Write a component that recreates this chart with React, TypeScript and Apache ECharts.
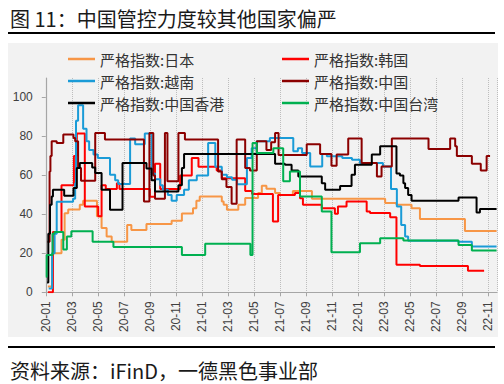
import React, { useEffect, useRef } from 'react';
import * as echarts from 'echarts';

const titleText = '图 11：中国管控力度较其他国家偏严';
const sourceText = '资料来源：iFinD，一德黑色事业部';

const xTickLabels = ['20-01','20-03','20-05','20-07','20-09','20-11','21-01','21-03','21-05','21-07','21-09','21-11','22-01','22-03','22-05','22-07','22-09','22-11'];

const seriesNames = ['严格指数:日本','严格指数:韩国','严格指数:越南','严格指数:中国','严格指数:中国香港','严格指数:中国台湾'];

const japan: [string, number][] = [
  ['2020-01-06',3],['2020-01-16',20],['2020-02-07',27],['2020-02-14',40.6],['2020-02-22',42.5],
  ['2020-03-20',45],['2020-03-28',47],['2020-04-29',39],['2020-05-10',33],['2020-05-22',28.6],
  ['2020-06-03',26],['2020-07-09',34.6],['2020-07-19',32],['2020-08-24',35],['2020-10-22',36.7],
  ['2020-11-15',40.5],['2020-12-11',43.2],['2020-12-19',47],['2020-12-27',49.2],['2021-02-16',46.6],
  ['2021-02-20',45],['2021-02-27',42.4],['2021-03-26',45],['2021-04-11',48.4],['2021-05-11',51],
  ['2021-05-20',54.7],['2021-05-31',53.2],['2021-06-20',51],['2021-07-01',50],['2021-08-01',52],
  ['2021-09-15',48],['2022-03-04',45.8],['2022-03-31',45],['2022-05-05',43.2],['2022-05-25',37.6],
  ['2022-09-08',31.5],['2022-11-21',31.5],
];

const korea: [string, number][] = [
  ['2020-01-06',0],['2020-01-18',31],['2020-02-07',55],['2020-03-06',70],['2020-03-13',81.5],
  ['2020-04-01',44],['2020-05-02',39],['2020-05-10',55],['2020-05-20',53],['2020-06-15',56],
  ['2020-06-21',53],['2020-09-01',49],['2020-09-13',66],['2020-09-25',53],['2020-11-11',60],
  ['2020-12-08',69],['2020-12-24',64.5],['2021-02-05',62.5],['2021-02-16',58.5],['2021-04-11',52],
  ['2021-04-27',50.5],['2021-06-15',36.3],['2021-06-27',50],['2021-08-06',51],['2021-08-18',48.3],
  ['2021-08-25',45],['2021-10-08',43.2],['2021-11-08',40.3],['2021-11-15',44],['2021-12-05',46.6],
  ['2022-01-22',41.5],['2022-01-30',40.7],['2022-03-16',38.5],['2022-03-31',14.2],['2022-05-25',13.5],
  ['2022-09-15',11],['2022-10-23',11],
];

const vietnam: [string, number][] = [
  ['2020-01-08',2],['2020-01-16',20],['2020-01-22',30],['2020-01-27',46.5],['2020-03-04',48],
  ['2020-03-09',56],['2020-03-11',88],['2020-03-16',96],['2020-03-28',84],['2020-04-05',77.5],
  ['2020-04-11',73],['2020-04-21',70.7],['2020-05-01',69],['2020-05-30',60.4],['2020-06-11',57.5],
  ['2020-06-18',55.6],['2020-07-16',79],['2020-07-28',76],['2020-08-20',81.5],['2020-09-05',61],
  ['2020-09-13',58],['2020-09-25',55],['2020-10-01',52.6],['2020-10-13',50],['2020-10-22',47],
  ['2020-11-03',50],['2020-11-20',52.6],['2020-12-01',57.5],['2020-12-20',60],['2021-01-16',76.6],
  ['2021-02-02',64.5],['2021-02-16',60.4],['2021-02-27',59],['2021-03-11',57.8],['2021-03-23',55.5],
  ['2021-04-15',69],['2021-04-26',74],['2021-05-08',77.5],['2021-06-08',79.2],['2021-08-02',72.4],
  ['2021-08-13',74],['2021-08-23',71.5],['2021-09-11',64.6],['2021-10-09',71],['2021-10-20',69.8],
  ['2021-11-25',69],['2021-12-18',68],['2022-01-06',66.4],['2022-02-27',64.6],['2022-03-18',53],
  ['2022-04-01',44],['2022-04-11',34.6],['2022-04-20',28.6],['2022-04-27',26.4],['2022-08-23',26],
  ['2022-09-24',23.5],['2022-11-21',23.5],
];

const china: [string, number][] = [
  ['2020-01-05',26],['2020-01-10',62],['2020-01-12',70],['2020-01-15',77.5],['2020-01-27',76.6],
  ['2020-02-11',81],['2020-03-05',79.2],['2020-03-09',77.5],['2020-03-16',63.8],['2020-03-23',57.2],
  ['2020-04-25',81.8],['2020-05-18',78.4],['2020-08-18',46.6],['2020-08-31',81.8],['2020-09-09',60],
  ['2020-09-13',48],['2020-10-06',81.8],['2020-10-12',57],['2020-11-07',81.8],['2020-11-22',78.4],
  ['2021-02-08',62],['2021-02-16',58],['2021-02-26',54],['2021-03-10',45.5],['2021-03-22',78.4],
  ['2021-04-11',63.8],['2021-04-22',62.5],['2021-05-08',77.5],['2021-05-31',73],['2021-06-11',77],
  ['2021-06-20',81.8],['2021-06-28',70.5],['2021-09-03',76],['2021-10-04',71],['2021-10-31',65],
  ['2021-11-12',70.7],['2021-12-09',79],['2022-01-10',66.4],['2022-02-14',59.5],['2022-02-24',64.6],
  ['2022-03-20',79],['2022-06-14',73.5],['2022-08-04',79],['2022-08-16',75],['2022-08-20',70],
  ['2022-09-24',66],['2022-10-15',62.5],['2022-10-29',70],['2022-11-06',70],
];

const hongKong: [string, number][] = [
  ['2020-01-04',5],['2020-01-07',30],['2020-01-11',45],['2020-01-15',49.2],['2020-01-18',52.6],
  ['2020-02-13',49.5],['2020-03-05',53.5],['2020-03-13',63.8],['2020-03-20',66.4],['2020-04-18',64],
  ['2020-04-25',61.2],['2020-05-10',52.6],['2020-05-30',42.4],['2020-06-28',66.4],['2020-08-24',63.5],
  ['2020-09-05',57.5],['2020-09-13',51.8],['2020-11-07',55],['2020-11-15',63.8],['2020-11-20',71],
  ['2021-06-20',66],['2021-07-13',65.5],['2021-07-29',62.5],['2021-08-14',59.5],['2021-10-08',56],
  ['2021-10-16',52.6],['2021-11-20',54.5],['2021-12-17',60.4],['2021-12-25',65.5],['2022-02-03',70.7],
  ['2022-02-21',75],['2022-03-31',61],['2022-04-08',60],['2022-04-16',56],['2022-04-20',53.5],
  ['2022-04-27',50],['2022-05-05',47],['2022-08-24',48.7],['2022-10-05',41],['2022-10-13',42.7],
  ['2022-11-21',42.7],
];

const taiwan: [string, number][] = [
  ['2020-01-01',8],['2020-01-03',19.2],['2020-01-17',30],['2020-01-22',31],['2020-02-11',22],
  ['2020-02-19',28.6],['2020-02-29',31.4],['2020-04-19',26],['2020-06-07',23.3],['2020-11-15',19.2],
  ['2021-01-09',24.9],['2021-04-23',19.2],['2021-04-28',76.6],['2021-05-08',71.5],['2021-06-16',74],
  ['2021-07-09',57],['2021-07-25',62],['2021-08-18',49.2],['2021-10-08',41.5],['2021-10-31',20.6],
  ['2022-01-06',25.2],['2022-02-21',27.8],['2022-04-16',26.6],['2022-08-24',24.3],['2022-09-24',21.4],
  ['2022-11-21',21.4],
];

const allSeries = [japan, korea, vietnam, china, hongKong, taiwan];

function monthIndex(d: string): number {
  const [y, m, day] = d.split('-').map(Number);
  const dim = new Date(y, m, 0).getDate();
  return (y - 2020) * 12 + (m - 1) + (day - 1) / dim;
}

export default function App() {
  const ref = useRef<HTMLDivElement>(null);
  useEffect(() => {
    if (!ref.current) return;
    const chart = echarts.init(ref.current, undefined, { renderer: 'svg' });
    const colors = ['#F79646', '#FF0000', '#1A9BD7', '#8B0000', '#000000', '#00B050'];
    const cjk = '"Noto Sans CJK SC", "Noto Sans", sans-serif';
    const legendCommon = {
      orient: 'vertical' as const,
      top: 48,
      padding: 0,
      itemGap: 0,
      itemWidth: 27,
      itemHeight: 2.5,
      icon: 'rect',
      textStyle: { fontSize: 15, lineHeight: 22, color: '#333333', fontFamily: cjk },
    };
    chart.setOption({
      animation: false,
      backgroundColor: '#ffffff',
      graphic: [
        { type: 'rect', z: -100, shape: { x: 8, y: 43, width: 490, height: 294 }, style: { fill: '#f2f2f2' } },
        { type: 'rect', shape: { x: 8, y: 32, width: 487, height: 2 }, style: { fill: '#000000' } },
        { type: 'rect', shape: { x: 8, y: 346, width: 487, height: 2 }, style: { fill: '#000000' } },
        { type: 'text', x: 10, y: 18, style: { text: titleText, fontSize: 20, fontFamily: cjk, fill: '#1a1a1a', verticalAlign: 'middle' } },
        { type: 'text', x: 10, y: 370, style: { text: sourceText, fontSize: 20, fontFamily: cjk, fill: '#1a1a1a', verticalAlign: 'middle' } },
      ],
      legend: [
        { ...legendCommon, left: 68, data: [seriesNames[0], seriesNames[2], seriesNames[4]] },
        { ...legendCommon, left: 282, data: [seriesNames[1], seriesNames[3], seriesNames[5]] },
      ],
      grid: { left: 45.8, right: 7, top: 78, bottom: 91.7 },
      xAxis: {
        type: 'value',
        min: 0,
        max: 34.7,
        interval: 2,
        axisLine: { lineStyle: { color: '#a6a6a6', width: 1.2 } },
        axisTick: { show: true, length: 4, lineStyle: { color: '#a6a6a6' } },
        axisLabel: {
          rotate: 90,
          margin: 9,
          fontSize: 12,
          color: '#404040',
          fontFamily: '"Liberation Sans", Arial, sans-serif',
          showMaxLabel: false,
          formatter: (v: number) => {
            const i = Math.round(v);
            if (Math.abs(v - i) > 1e-6 || i % 2 !== 0) return '';
            return xTickLabels[i / 2] ?? '';
          },
        },
        splitLine: { show: true, lineStyle: { type: 'dotted', color: '#bdbdbd', width: 1 } },
      },
      yAxis: {
        type: 'value',
        min: 0,
        max: 110,
        interval: 20,
        axisLine: { show: true, lineStyle: { color: '#a6a6a6', width: 1.2 } },
        axisTick: { show: true, length: 4, lineStyle: { color: '#a6a6a6' } },
        axisLabel: {
          margin: 13,
          fontSize: 12,
          color: '#404040',
          fontFamily: '"Liberation Sans", Arial, sans-serif',
          showMaxLabel: false,
        },
        splitLine: { show: false },
      },
      series: allSeries.map((data, k) => ({
        name: seriesNames[k],
        type: 'line',
        step: 'end',
        symbol: 'none',
        color: colors[k],
        lineStyle: { width: 2, color: colors[k] },
        data: data.map(([d, v]) => [monthIndex(d), v]),
      })),
    });
    return () => chart.dispose();
  }, []);
  return <div ref={ref} style={{ position: 'fixed', left: 0, top: 0, width: 504, height: 384 }} />;
}
